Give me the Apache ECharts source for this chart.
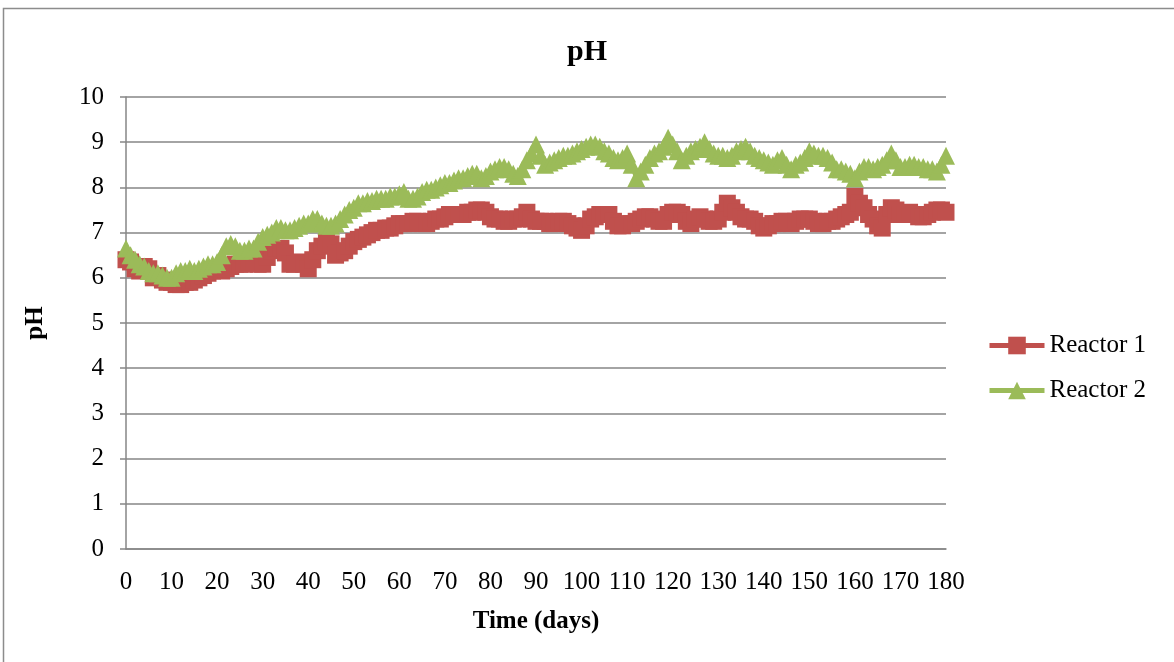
<!DOCTYPE html>
<html>
<head>
<meta charset="utf-8">
<script src="https://cdn.jsdelivr.net/npm/echarts@6/dist/echarts.min.js"></script>
<style>
  html, body { margin: 0; padding: 0; background: #fff; }
  #chart { width: 1174px; height: 662px; }
</style>
</head>
<body>
<div id="chart"></div>
<script>
// Daily sampling over the 180-day run
const days = [];
for (let d = 0; d <= 180; d++) days.push(d);

// pH readings, Reactor 1 (day 0 .. 180)
const reactor1 = [
  6.4, 6.35, 6.2, 6.15, 6.25, 6.2, 6.0, 6.05, 5.95, 5.9,
  5.9, 5.85, 5.85, 5.9, 5.9, 5.95, 6.0, 6.05, 6.1, 6.15,
  6.2, 6.15, 6.2, 6.25, 6.3, 6.3, 6.3, 6.35, 6.35, 6.3,
  6.3, 6.45, 6.6, 6.65, 6.65, 6.55, 6.3, 6.3, 6.35, 6.3,
  6.2, 6.4, 6.6, 6.7, 6.8, 6.75, 6.5, 6.55, 6.6, 6.7,
  6.8, 6.85, 6.9, 6.95, 7.0, 7.05, 7.05, 7.1, 7.1, 7.15,
  7.2, 7.2, 7.2, 7.25, 7.25, 7.2, 7.2, 7.25, 7.3, 7.3,
  7.35, 7.4, 7.4, 7.4, 7.4, 7.45, 7.45, 7.5, 7.5, 7.45,
  7.35, 7.3, 7.3, 7.25, 7.25, 7.3, 7.3, 7.35, 7.45, 7.3,
  7.25, 7.25, 7.25, 7.2, 7.2, 7.25, 7.25, 7.2, 7.15, 7.1,
  7.05, 7.15, 7.3, 7.35, 7.4, 7.4, 7.4, 7.25, 7.15, 7.15,
  7.2, 7.2, 7.25, 7.3, 7.35, 7.35, 7.3, 7.25, 7.25, 7.4,
  7.45, 7.45, 7.4, 7.25, 7.2, 7.3, 7.35, 7.3, 7.25, 7.25,
  7.3, 7.45, 7.65, 7.55, 7.45, 7.35, 7.3, 7.3, 7.25, 7.15,
  7.1, 7.15, 7.2, 7.2, 7.25, 7.25, 7.2, 7.25, 7.3, 7.3,
  7.3, 7.25, 7.2, 7.2, 7.25, 7.25, 7.3, 7.35, 7.4, 7.45,
  7.8, 7.65, 7.55, 7.4, 7.3, 7.15, 7.1, 7.4, 7.55, 7.5,
  7.4, 7.4, 7.45, 7.4, 7.35, 7.35, 7.4, 7.45, 7.5, 7.5,
  7.45
];

// pH readings, Reactor 2 (day 0 .. 180)
const reactor2 = [
  6.65, 6.5, 6.4, 6.3, 6.25, 6.15, 6.1, 6.1, 6.05, 6.0,
  6.0, 6.1, 6.15, 6.15, 6.2, 6.15, 6.2, 6.25, 6.3, 6.3,
  6.35, 6.5, 6.7, 6.75, 6.7, 6.6, 6.6, 6.65, 6.65, 6.8,
  6.9, 6.95, 7.0, 7.1, 7.1, 7.05, 7.05, 7.1, 7.15, 7.2,
  7.2, 7.3, 7.3, 7.2, 7.15, 7.15, 7.2, 7.3, 7.4, 7.5,
  7.55, 7.65, 7.65, 7.7, 7.7, 7.75, 7.75, 7.75, 7.8, 7.8,
  7.85, 7.9, 7.75, 7.75, 7.8, 7.9, 7.95, 7.95, 8.0, 8.05,
  8.1, 8.1, 8.15, 8.2, 8.2, 8.25, 8.3, 8.3, 8.2, 8.25,
  8.35, 8.4, 8.45, 8.45, 8.4, 8.3, 8.25, 8.4, 8.6, 8.75,
  8.95, 8.7, 8.5, 8.55, 8.6, 8.65, 8.7, 8.7, 8.75, 8.8,
  8.85, 8.9, 8.95, 8.95, 8.9, 8.8, 8.75, 8.65, 8.6, 8.65,
  8.75, 8.5, 8.2, 8.35, 8.5, 8.65, 8.75, 8.8, 8.9, 9.1,
  8.95, 8.8, 8.6, 8.7, 8.8, 8.85, 8.9, 9.0, 8.85, 8.75,
  8.7, 8.7, 8.65, 8.7, 8.8, 8.85, 8.9, 8.8, 8.7, 8.65,
  8.6, 8.55, 8.5, 8.6, 8.65, 8.5, 8.4, 8.5, 8.55, 8.65,
  8.8, 8.75, 8.7, 8.7, 8.65, 8.55, 8.4, 8.4, 8.35, 8.3,
  8.2, 8.35, 8.45, 8.45, 8.4, 8.45, 8.5, 8.6, 8.75, 8.6,
  8.45, 8.45, 8.5, 8.5, 8.45, 8.45, 8.4, 8.4, 8.35, 8.5,
  8.7
];

const seriesNames = ['Reactor 1', 'Reactor 2'];

const serif = '"Liberation Serif", "DejaVu Serif", serif';
const gridGray = '#868686';

const pairs = vals => days.map((d, i) => [d, vals[i]]);

const chart = echarts.init(document.getElementById('chart'), null, { renderer: 'canvas' });

chart.setOption({
  backgroundColor: '#ffffff',
  animation: false,
  graphic: [{
    type: 'rect',
    shape: { x: 3.5, y: 8.5, width: 1200, height: 700 },
    style: { fill: 'none', stroke: '#8c8c8c', lineWidth: 1.5 },
    silent: true
  }],
  title: {
    text: 'pH',
    left: 'center',
    top: 32,
    textStyle: { fontFamily: serif, fontSize: 30, fontWeight: 'bold', color: '#000' }
  },
  legend: {
    orient: 'vertical',
    left: 987,
    top: 333,
    padding: 0,
    itemWidth: 55,
    itemHeight: 22,
    itemGap: 20,
    data: seriesNames,
    lineStyle: { width: 5 },
    textStyle: { fontFamily: serif, fontSize: 25, color: '#000' }
  },
  grid: { left: 126, right: 228, top: 97, bottom: 113, containLabel: false },
  xAxis: {
    type: 'value',
    min: 0,
    max: 180,
    interval: 10,
    name: 'Time (days)',
    nameLocation: 'middle',
    nameGap: 60,
    nameTextStyle: { fontFamily: serif, fontSize: 25, fontWeight: 'bold', color: '#000' },
    axisLine: { show: true, lineStyle: { color: gridGray, width: 1.5 } },
    axisTick: { show: false },
    splitLine: { show: false },
    axisLabel: { fontFamily: serif, fontSize: 25, color: '#000', margin: 21 }
  },
  yAxis: {
    type: 'value',
    min: 0,
    max: 10,
    interval: 1,
    name: 'pH',
    nameLocation: 'middle',
    nameGap: 78,
    nameRotate: 90,
    nameTextStyle: { fontFamily: serif, fontSize: 25, fontWeight: 'bold', color: '#000' },
    axisLine: { show: true, lineStyle: { color: gridGray, width: 1.5 } },
    axisTick: { show: true, length: 6, lineStyle: { color: gridGray, width: 1.5 } },
    splitLine: { show: true, lineStyle: { color: gridGray, width: 1.5 } },
    axisLabel: { fontFamily: serif, fontSize: 25, color: '#000', margin: 22 }
  },
  series: [
    {
      name: seriesNames[0],
      type: 'line',
      data: pairs(reactor1),
      symbol: 'rect',
      symbolSize: 17,
      color: '#C0504D',
      lineStyle: { width: 4, color: '#C0504D' },
      itemStyle: { color: '#C0504D', borderColor: '#C0504D', borderWidth: 0 },
      z: 2
    },
    {
      name: seriesNames[1],
      type: 'line',
      data: pairs(reactor2),
      symbol: 'triangle',
      symbolSize: 18,
      color: '#9BBB59',
      lineStyle: { width: 4, color: '#9BBB59' },
      itemStyle: { color: '#9BBB59', borderColor: '#9BBB59', borderWidth: 0 },
      z: 3
    }
  ]
});
</script>
</body>
</html>
